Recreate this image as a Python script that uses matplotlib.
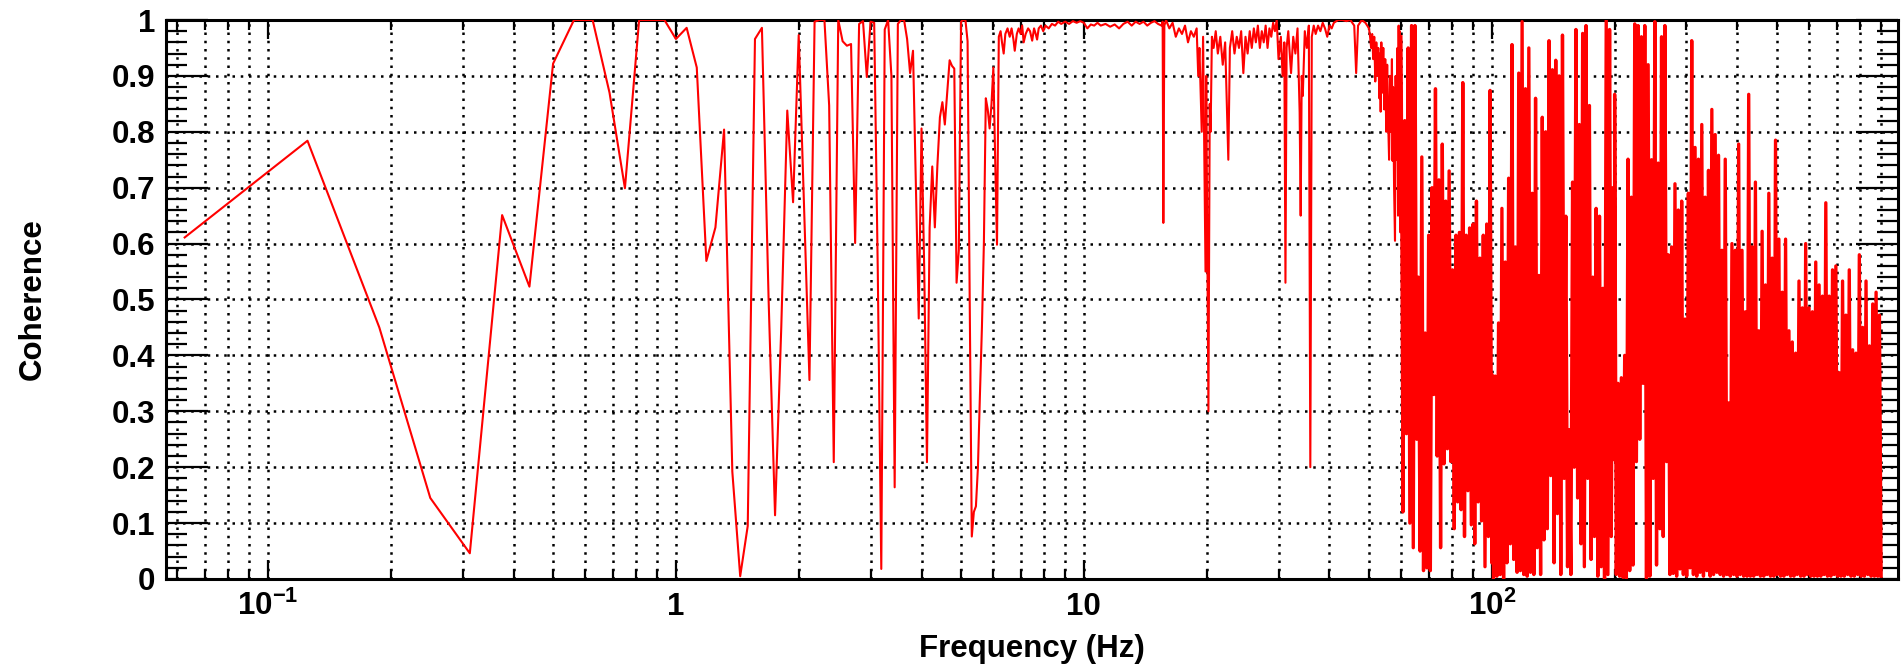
import numpy as np
import matplotlib as mpl
mpl.use('Agg')
import matplotlib.pyplot as plt
from matplotlib.ticker import FixedLocator, FixedFormatter, LogLocator, NullFormatter, MultipleLocator

plt.rcParams['font.family'] = ['Liberation Sans', 'DejaVu Sans']
plt.rcParams['font.weight'] = 'bold'
plt.rcParams['mathtext.fontset'] = 'custom'
plt.rcParams['mathtext.rm'] = 'Liberation Sans:bold'
plt.rcParams['mathtext.it'] = 'Liberation Sans:bold'
plt.rcParams['mathtext.bf'] = 'Liberation Sans:bold'

# coherence on the 0.0625 Hz bins, 0.0625 .. 6.1875 Hz
bin_width = 0.0625
low_coh = [0.611, 0.784, 0.450, 0.145, 0.046, 0.651, 0.523, 0.922, 1.0, 1.0,
           0.870, 0.699, 1.0, 1.0, 1.0, 0.966, 0.986, 0.915, 0.569, 0.629,
           0.804, 0.192, 0.005, 0.095, 0.966, 0.986, 0.50, 0.114, 0.45, 0.838,
           0.674, 0.973, 0.66, 0.356, 0.997, 1.0, 1.0, 0.847, 0.209, 1.0,
           0.962, 0.954, 0.957, 0.601, 0.993, 0.998, 0.898, 0.997, 0.995, 0.55,
           0.018, 0.983, 1.0, 0.90, 0.164, 0.993, 1.0, 1.0, 0.966, 0.905,
           0.945, 0.70, 0.466, 0.806, 0.55, 0.209, 0.629, 0.738, 0.629, 0.74,
           0.826, 0.853, 0.813, 0.87, 0.928, 0.918, 0.913, 0.53, 0.588, 0.997,
           1.0, 1.0, 0.962, 0.50, 0.076, 0.12, 0.13, 0.20, 0.33, 0.45,
           0.60, 0.86, 0.84, 0.806, 0.85, 0.915, 0.75, 0.598, 0.97]

# 6 - 60 Hz, read point by point
mid_freq = [6.25, 6.30, 6.36, 6.42, 6.50, 6.58, 6.65, 6.72, 6.77, 6.85,
            6.92, 7.00, 7.06, 7.12, 7.20, 7.30, 7.38, 7.47, 7.55, 7.62,
            7.68, 7.75, 7.85, 7.95, 8.05, 8.20, 8.35, 8.50, 8.65, 8.80,
            9.00, 9.20, 9.40, 9.60, 9.80, 10.0, 10.2, 10.4, 10.6, 10.8,
            11.0, 11.3, 11.6, 11.9, 12.2, 12.5, 12.8, 13.1, 13.4, 13.7,
            14.0, 14.3, 14.6, 14.9, 15.2, 15.5, 15.6, 15.66, 15.75, 15.9,
            16.2, 16.5, 16.8, 17.1, 17.4, 17.7, 18.0, 18.3, 18.6, 18.9,
            19.07, 19.2, 19.45, 19.6, 19.87, 19.95, 20.2, 20.35, 20.45, 20.6,
            20.8, 21.05, 21.3, 21.6, 21.9, 22.2, 22.6, 22.8, 23.1, 23.4,
            23.7, 24.0, 24.3, 24.6, 24.9, 25.2, 25.5, 25.8, 26.1, 26.4,
            26.7, 27.0, 27.3, 27.6, 27.9, 28.2, 28.5, 28.8, 29.1, 29.4,
            29.7, 30.0, 30.4, 30.7, 31.0, 31.2, 31.4, 31.7, 32.2, 32.6,
            33.0, 33.4, 33.8, 34.0, 34.2, 34.4, 34.8, 35.2, 35.6, 35.9,
            36.2, 36.6, 37.0, 37.5, 38.0, 38.5, 39.0, 39.5, 40.0, 40.5,
            41.0, 42.0, 43.0, 44.0, 45.0, 46.0, 46.5, 47.0, 48.0, 49.0,
            50.0, 50.3, 50.6, 50.9, 51.2, 51.5, 51.8, 52.1, 52.4, 52.7,
            53.0, 53.2, 53.4, 53.6, 53.9, 54.2, 54.5, 54.8, 55.1, 55.4,
            55.7, 56.0, 56.3, 56.6, 56.9, 57.1, 57.3, 57.6, 57.9, 58.1,
            58.4, 58.7, 58.9, 59.1, 59.3, 59.5, 59.7, 59.85]
mid_coh = [0.98, 0.96, 0.94, 0.975, 0.985, 0.97, 0.985, 0.965, 0.945, 0.975,
           0.985, 0.975, 0.99, 0.96, 0.975, 0.985, 0.98, 0.963, 0.985, 0.975,
           0.965, 0.985, 0.99, 0.98, 0.99, 0.985, 0.993, 0.99, 0.997, 0.993,
           0.997, 0.993, 0.998, 0.995, 0.998, 0.995, 0.985, 0.992, 0.99, 0.995,
           0.99, 0.993, 0.988, 0.992, 0.985, 0.993, 0.997, 0.99, 0.997, 0.993,
           0.997, 0.99, 0.995, 0.998, 0.993, 0.99, 0.997, 0.637, 0.99, 1.0,
           0.985, 0.995, 0.97, 0.985, 0.975, 0.99, 0.96, 0.98, 0.97, 0.985,
           0.90, 0.95, 0.80, 0.97, 0.55, 0.90, 0.30, 0.85, 0.80, 0.97,
           0.95, 0.98, 0.94, 0.97, 0.92, 0.96, 0.75, 0.95, 0.98, 0.94,
           0.97, 0.95, 0.98, 0.905, 0.97, 0.94, 0.98, 0.95, 0.985, 0.96,
           0.99, 0.95, 0.98, 0.96, 0.99, 0.95, 0.985, 0.97, 0.995, 0.98,
           1.0, 0.93, 0.97, 0.90, 0.96, 0.53, 0.95, 0.98, 0.905, 0.97,
           0.94, 0.985, 0.835, 0.65, 0.90, 0.864, 0.98, 0.95, 0.99, 0.20,
           0.97, 0.99, 0.975, 0.99, 0.98, 0.995, 0.985, 0.97, 0.99, 0.985,
           0.995, 1.0, 1.0, 0.998, 1.0, 0.99, 0.905, 0.99, 1.0, 0.995,
           0.985, 0.97, 0.95, 0.975, 0.93, 0.97, 0.89, 0.96, 0.90, 0.95,
           0.86, 0.94, 0.836, 0.96, 0.87, 0.95, 0.84, 0.93, 0.80, 0.92,
           0.82, 0.75, 0.90, 0.80, 0.93, 0.748, 0.88, 0.70, 0.605, 0.90,
           0.75, 0.95, 0.65, 0.99, 0.80, 0.98, 0.62, 0.97]

# above 60 Hz the trace is a dense band: peak / trough read per column
band_edges = [60.0, 100.0, 200.0, 900.0]
band1_hi = [0.87, 0.82, 0.95, 0.99, 0.99, 0.54, 0.755, 0.44, 0.615, 0.70,
            0.877, 0.714, 0.778, 0.676, 0.73, 0.553, 0.615, 0.62, 0.888, 0.615,
            0.628, 0.635, 0.676, 0.574, 0.615, 0.635, 0.874]
band1_lo = [0.12, 0.26, 0.10, 0.056, 0.25, 0.05, 0.015, 0.02, 0.015, 0.33,
            0.22, 0.056, 0.206, 0.233, 0.21, 0.09, 0.138, 0.124, 0.076, 0.158,
            0.097, 0.063, 0.138, 0.104, 0.022, 0.076, 0.029]
band2_hi = [0.366, 0.363, 0.458, 0.663, 0.567, 0.717, 0.956, 0.594, 0.905, 0.997,
            0.877, 0.95, 0.69, 0.86, 0.543, 0.826, 0.80, 0.963, 0.911, 0.928,
            0.90, 0.973, 0.649, 0.267, 0.71, 0.983, 0.813, 0.976, 0.99, 0.847,
            0.54, 0.663, 0.649, 0.52, 1.0, 0.983, 0.70]
band2_lo = [0.0, 0.005, 0.008, 0.0, 0.029, 0.063, 0.035, 0.012, 0.015, 0.008,
            0.005, 0.012, 0.008, 0.056, 0.008, 0.07, 0.09, 0.185, 0.029, 0.117,
            0.008, 0.18, 0.022, 0.008, 0.20, 0.145, 0.063, 0.022, 0.18, 0.035,
            0.076, 0.005, 0.022, 0.0, 0.008, 0.076, 0.213]
band3_hi = [0.867, 0.35, 0.36, 0.40, 0.751, 0.683, 0.993, 0.99, 0.97, 0.99,
            0.92, 0.75, 0.997, 0.744, 0.97, 0.99, 0.58, 0.594, 0.707, 0.66,
            0.676, 0.465, 0.69, 0.963, 0.772, 0.751, 0.813, 0.683, 0.731, 0.84,
            0.795, 0.758, 0.588, 0.751, 0.315, 0.60, 0.588, 0.778, 0.588, 0.478,
            0.867, 0.594, 0.71, 0.444, 0.622, 0.526, 0.69, 0.574, 0.785, 0.608,
            0.513, 0.608, 0.444, 0.424, 0.404, 0.533, 0.485, 0.60, 0.485, 0.478,
            0.567, 0.526, 0.506, 0.673, 0.506, 0.553, 0.56, 0.369, 0.533, 0.472,
            0.553, 0.41, 0.404, 0.58, 0.45, 0.533, 0.417, 0.492, 0.513, 0.472]
band3_lo = [0.008, 0.005, 0.003, 0.0, 0.015, 0.025, 0.21, 0.25, 0.35, 0.001,
            0.005, 0.18, 0.025, 0.09, 0.076, 0.21, 0.008, 0.01, 0.005, 0.018,
            0.008, 0.005, 0.02, 0.008, 0.005, 0.012, 0.005, 0.015, 0.005, 0.008,
            0.012, 0.008, 0.005, 0.008, 0.005, 0.008, 0.005, 0.008, 0.005, 0.005,
            0.005, 0.005, 0.008, 0.005, 0.005, 0.008, 0.005, 0.005, 0.008, 0.005,
            0.005, 0.008, 0.005, 0.005, 0.008, 0.005, 0.005, 0.008, 0.005, 0.005,
            0.005, 0.005, 0.008, 0.005, 0.005, 0.008, 0.005, 0.005, 0.005, 0.008,
            0.005, 0.005, 0.008, 0.005, 0.005, 0.008, 0.005, 0.005, 0.005, 0.005]


def band_trace(f0, f1, hi, lo):
  # one peak and one trough per read column, columns even on the log axis
  f = np.geomspace(f0, f1, 2*len(hi))
  c = np.column_stack([hi, lo]).ravel()
  return f, c


low_freq = bin_width*np.arange(1, len(low_coh)+1)
freq = np.concatenate([low_freq, mid_freq])
coh = np.concatenate([low_coh, mid_coh])

band_f, band_c = [freq[-1:]], [coh[-1:]]
bands = [(band1_hi, band1_lo), (band2_hi, band2_lo), (band3_hi, band3_lo)]
for i, (hi, lo) in enumerate(bands):
  f, c = band_trace(band_edges[i], band_edges[i+1], hi, lo)
  band_f.append(f)
  band_c.append(c)
band_f = np.concatenate(band_f)
band_c = np.concatenate(band_c)

fig = plt.figure(figsize=(19.02, 6.70), dpi=100)
ax = fig.add_axes([166/1902, 1-579/670, 1732/1902, 559/670])
ax.set_axisbelow(True)
ax.plot(freq, coh, color='#ff0000', lw=1.5, zorder=3)
# the band is many samples per pixel in the original, so it reads as solid
ax.plot(band_f, band_c, color='#ff0000', lw=2.4, zorder=3)

ax.set_xscale('log')
ax.set_xlim(0.05625, 990)
ax.set_ylim(0, 1)

ax.xaxis.set_major_locator(FixedLocator([0.1, 1, 10, 100]))
ax.xaxis.set_major_formatter(FixedFormatter([r'$10^{-1}$', '1', '10', r'$10^{2}$']))
ax.xaxis.set_minor_locator(LogLocator(base=10, subs=np.arange(2, 10), numticks=20))
ax.xaxis.set_minor_formatter(NullFormatter())
ax.yaxis.set_major_locator(MultipleLocator(0.1))
ax.yaxis.set_major_formatter(plt.FuncFormatter(lambda v, p: '%g' % round(v, 1)))
ax.yaxis.set_minor_locator(MultipleLocator(0.02))

ax.tick_params(axis='y', which='major', direction='in', length=30, width=1.6,
               left=True, right=True, labelsize=22.5, pad=8)
ax.tick_params(axis='y', which='minor', direction='in', length=15, width=1.6,
               left=True, right=True)
ax.tick_params(axis='x', which='major', direction='in', length=14, width=1.6,
               top=True, bottom=True, labelsize=22.5, pad=26)
ax.tick_params(axis='x', which='minor', direction='in', length=7, width=1.6,
               top=True, bottom=True)
for lab in ax.get_xticklabels():
  lab.set_verticalalignment('baseline')

dots = (0, (1.0, 2.3))
ax.xaxis.grid(True, which='both', color='black', linestyle=dots, linewidth=1.8)
ax.yaxis.grid(True, which='major', color='black', linestyle=dots, linewidth=1.8)
for sp in ax.spines.values():
  sp.set_linewidth(2.2)

ax.set_xlabel('Frequency (Hz)', fontsize=22.5, fontweight='bold', va='center')
ax.xaxis.set_label_coords(0.5, -(649-579)/559)
ax.set_ylabel('Coherence', fontsize=22.5, fontweight='bold', va='center')
ax.yaxis.set_label_coords(-(166-33)/1732, 0.5)

fig.savefig('out.png', dpi=100)
